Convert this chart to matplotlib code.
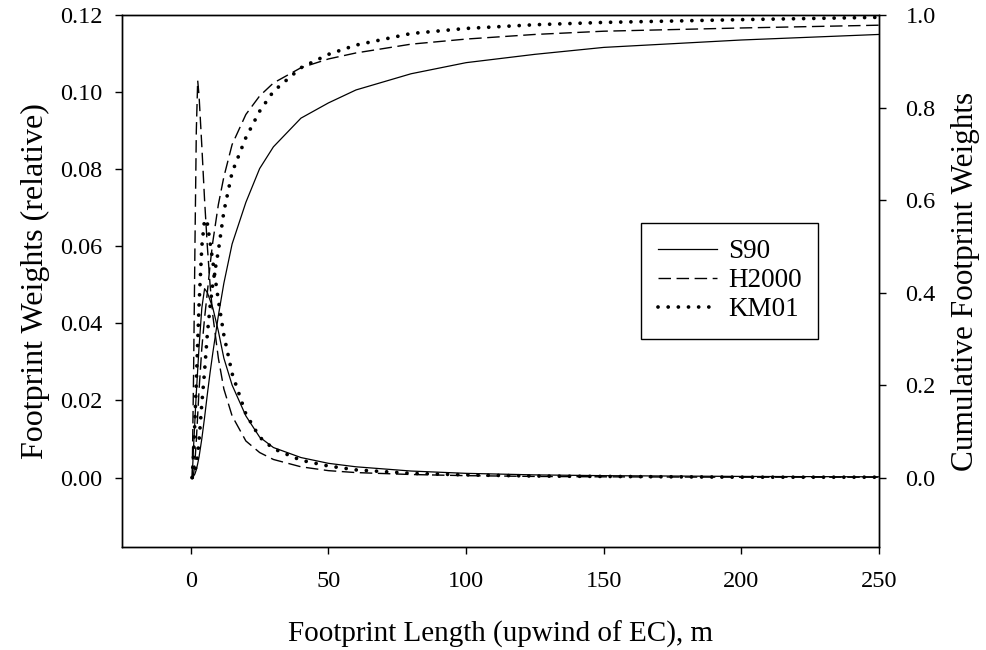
import matplotlib
matplotlib.use("Agg")
import matplotlib.pyplot as plt

plt.rcParams['font.family'] = ['Liberation Serif', 'DejaVu Serif']
plt.rcParams['font.size'] = 17.5

# footprint distance upwind (m)
dist = [0.5, 1, 1.5, 2, 2.5, 3, 4, 5, 6, 7, 8, 10, 12, 15, 20, 25, 30,
        40, 50, 60, 80, 100, 125, 150, 200, 250]

# relative footprint weights (left axis)
w_s90 = [0.0, 0.008, 0.015, 0.022, 0.028, 0.034, 0.044, 0.049, 0.048, 0.046,
         0.044, 0.038, 0.031, 0.024, 0.016, 0.0105, 0.0078, 0.0052, 0.0037,
         0.0028, 0.0017, 0.0011, 0.0007, 0.0005, 0.0003, 0.0002]
w_h2000 = [0.0, 0.027, 0.06, 0.09, 0.103, 0.099, 0.086, 0.072, 0.06, 0.05,
           0.042, 0.031, 0.023, 0.016, 0.0095, 0.0065, 0.0047, 0.0028, 0.0018,
           0.0013, 0.0008, 0.0005, 0.0003, 0.0002, 0.0001, 0.0001]
w_km01 = [0.0, 0.006, 0.015, 0.025, 0.035, 0.045, 0.06, 0.067, 0.066, 0.061,
          0.056, 0.046, 0.037, 0.027, 0.0165, 0.0105, 0.0075, 0.0045, 0.003,
          0.002, 0.0011, 0.0007, 0.0004, 0.0003, 0.0001, 0.0001]

# cumulative footprint weights (right axis)
c_s90 = [0.0, 0.003, 0.008, 0.017, 0.03, 0.045, 0.084, 0.13, 0.18, 0.227,
         0.27, 0.35, 0.42, 0.505, 0.595, 0.668, 0.715, 0.777, 0.81, 0.838,
         0.873, 0.897, 0.915, 0.93, 0.946, 0.958]
c_h2000 = [0.0, 0.007, 0.035, 0.08, 0.135, 0.19, 0.28, 0.345, 0.40, 0.46,
           0.51, 0.59, 0.65, 0.72, 0.785, 0.825, 0.853, 0.886, 0.905, 0.918,
           0.937, 0.948, 0.958, 0.965, 0.972, 0.978]
c_km01 = [0.0, 0.003, 0.012, 0.03, 0.05, 0.08, 0.16, 0.23, 0.31, 0.37,
          0.42, 0.49, 0.575, 0.66, 0.735, 0.792, 0.835, 0.886, 0.915, 0.935,
          0.96, 0.971, 0.979, 0.984, 0.99, 0.995]

labels = ['S90', 'H2000', 'KM01']
dashed = (0, (9, 4))
dotted = (0, (0.01, 2.7))

fig = plt.figure(figsize=(9.87, 6.5), dpi=100)
ax = fig.add_axes([0.1236, 0.1585, 0.767, 0.8184])
ax2 = ax.twinx()

ax.plot(dist, w_s90, color='black', lw=0.9, label=labels[0])
ax.plot(dist, w_h2000, color='black', lw=1.0, linestyle=dashed, label=labels[1])
ax.plot(dist, w_km01, color='black', lw=2.7, linestyle=dotted,
        dash_capstyle='round', label=labels[2])

ax2.plot(dist, c_s90, color='black', lw=0.9)
ax2.plot(dist, c_h2000, color='black', lw=1.0, linestyle=dashed)
ax2.plot(dist, c_km01, color='black', lw=2.7, linestyle=dotted,
         dash_capstyle='round')

ax.set_xlim(-25, 250)
ax.set_ylim(-0.018, 0.12)
ax2.set_ylim(-0.15, 1.0)

ax.set_xticks([0, 50, 100, 150, 200, 250])
ax.set_yticks([0.0, 0.02, 0.04, 0.06, 0.08, 0.10, 0.12])
ax.set_yticklabels(['0.00', '0.02', '0.04', '0.06', '0.08', '0.10', '0.12'])
ax2.set_yticks([0.0, 0.2, 0.4, 0.6, 0.8, 1.0])
ax2.set_yticklabels(['0.0', '0.2', '0.4', '0.6', '0.8', '1.0'])

ax.tick_params(axis='x', direction='out', length=5, width=1, pad=12)
ax.tick_params(axis='y', direction='out', length=5, width=1, pad=9)
ax2.tick_params(axis='y', direction='out', length=5, width=1, pad=14)
for a in (ax, ax2):
    for s in a.spines.values():
        s.set_linewidth(1.0)

ax.set_xlabel('Footprint Length (upwind of EC), m', fontsize=21, labelpad=21)
ax.set_ylabel('Footprint Weights (relative)', fontsize=23, labelpad=7)
ax2.set_ylabel('Cumulative Footprint Weights', fontsize=22.5, labelpad=11)

leg = ax2.legend(handles=ax.get_lines(), loc='upper left',
                 bbox_to_anchor=(0.686, 0.609), borderaxespad=0,
                 fancybox=False, edgecolor='black', framealpha=1,
                 fontsize=19.5, handlelength=2.2, handletextpad=0.4,
                 borderpad=0.6, labelspacing=0.15)
leg.get_frame().set_linewidth(1.0)

fig.savefig('out.png', dpi=100)
